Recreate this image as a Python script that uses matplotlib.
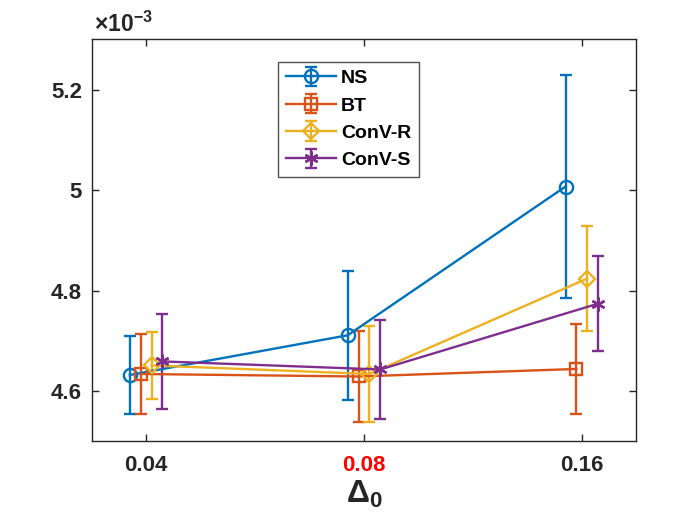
import numpy as np
import matplotlib
matplotlib.use("Agg")
import matplotlib.pyplot as plt

# values are in units of 1e-3
delta_labels = ["0.04", "0.08", "0.16"]
series_names = ["NS", "BT", "ConV-R", "ConV-S"]

ns_mean = [4.632, 4.711, 5.007]
ns_err = [0.078, 0.128, 0.222]
bt_mean = [4.634, 4.629, 4.644]
bt_err = [0.079, 0.090, 0.089]
convr_mean = [4.651, 4.634, 4.824]
convr_err = [0.067, 0.096, 0.104]
convs_mean = [4.659, 4.643, 4.774]
convs_err = [0.094, 0.099, 0.094]

plt.rcParams['font.family'] = ['Liberation Sans', 'DejaVu Sans']
plt.rcParams['font.weight'] = 'bold'
plt.rcParams['mathtext.fontset'] = 'custom'
plt.rcParams['mathtext.rm'] = 'Liberation Sans:bold'
plt.rcParams['mathtext.it'] = 'Liberation Sans:bold'
plt.rcParams['mathtext.bf'] = 'Liberation Sans:bold'

colors = ['#0072BD', '#D95319', '#EDB120', '#7E2F8E']
markers = ['o', 's', 'D', (6, 2, 0)]
msizes = [9.5, 8, 8.5, 10]
offsets = [-0.075, -0.025, 0.025, 0.075]
means = [ns_mean, bt_mean, convr_mean, convs_mean]
errs = [ns_err, bt_err, convr_err, convs_err]

fig = plt.figure(figsize=(7, 5.25), dpi=100)
ax = fig.add_axes([0.131, 0.1594, 0.778, 0.7657])

x = np.arange(1, len(delta_labels) + 1)
for name, m, e, c, mk, ms, off in zip(series_names, means, errs, colors, markers, msizes, offsets):
    ax.errorbar(x + off, m, yerr=e, color=c, marker=mk, ms=ms, mfc='none',
                mec=c, mew=1.7, lw=1.7, elinewidth=1.7, capsize=4.5, capthick=1.7,
                label=name)

ax.set_xlim(0.75, 3.25)
ax.set_ylim(4.5, 5.3)
ax.set_xticks(x)
ax.set_xticklabels(delta_labels)
ax.set_yticks([4.6, 4.8, 5.0, 5.2])
ax.set_yticklabels(['4.6', '4.8', '5', '5.2'])
ax.tick_params(direction='in', top=True, right=True, length=5, width=1,
               labelsize=16, colors='#262626')
ax.tick_params(axis='x', pad=10)
ax.tick_params(axis='y', pad=7)
ax.get_xticklabels()[1].set_color('red')
for sp in ax.spines.values():
    sp.set_color('#262626')
    sp.set_linewidth(1)

ax.set_xlabel(r'$\Delta_0$', fontsize=23, color='#262626', labelpad=2)
ax.text(0.004, 1.005, r'$\times 10^{-3}$', transform=ax.transAxes,
        fontsize=16.5, color='#262626', ha='left', va='bottom')

leg = ax.legend(loc='upper left', bbox_to_anchor=(0.342, 0.944), borderaxespad=0,
                fontsize=14, frameon=True, fancybox=False, handlelength=2.6,
                labelspacing=0.5, borderpad=0.4, handletextpad=0.25)
leg.get_frame().set_edgecolor('#262626')
leg.get_frame().set_linewidth(1)

fig.savefig('out.png', dpi=100)
